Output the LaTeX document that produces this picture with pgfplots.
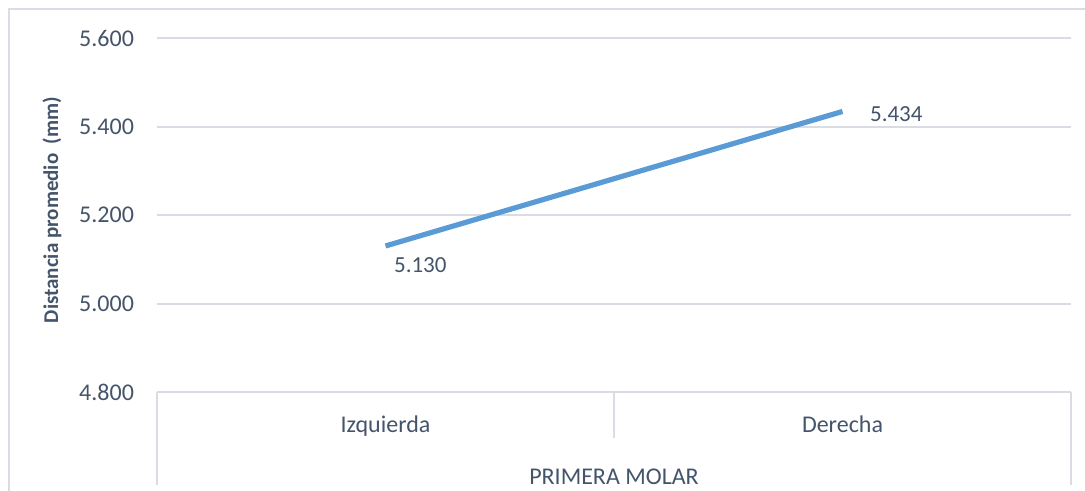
\documentclass[border=0pt]{standalone}
\usepackage{pgfplots}
\pgfplotsset{compat=1.18}
\usepackage{fontspec}
\setmainfont{Carlito}
\definecolor{txt}{HTML}{44546A}
\definecolor{grd}{HTML}{D9DDE3}
\definecolor{ln}{HTML}{5B9BD5}
\begin{document}
\begin{tikzpicture}[x=1pt,y=1pt]
\begin{axis}[at={(78.5pt,49.5pt)}, anchor=south west, scale only axis,
 width=457pt, height=177pt,
 xmin=-0.5, xmax=1.5, ymin=4.8, ymax=5.6,
 ytick={4.8,5.0,5.2,5.4,5.6}, xtick={0,1}, xticklabels={Izquierda,Derecha},
 axis line style={draw=none}, major tick length=0pt,
 ymajorgrids, grid style={grd, line width=1pt},
 /pgf/number format/assume math mode=true,
 ticklabel style={font=\fontsize{12}{14}\selectfont, text=txt},
 yticklabel style={/pgf/number format/fixed, /pgf/number format/fixed zerofill, /pgf/number format/precision=3},
 yticklabel style={anchor=east, xshift=-8pt},
 xticklabel style={anchor=base, yshift=-20.5pt},
 clip=false]
\addplot[ln, line width=2.6pt, line cap=butt] coordinates {(0,5.130) (1,5.434)}
 node[pos=0, anchor=base west, inner sep=0pt, xshift=3pt, yshift=-13.5pt, font=\fontsize{11.5}{14}\selectfont, text=txt]{5.130}
 node[pos=1, anchor=base west, inner sep=0pt, xshift=12.5pt, yshift=-5.25pt, font=\fontsize{11.5}{14}\selectfont, text=txt]{5.434};
\end{axis}
\draw[grd, line width=1pt] (78.5,49.5) -- (78.5,3);
\draw[grd, line width=1pt] (307,49.5) -- (307,26.5);
\draw[grd, line width=1pt] (535.5,49.5) -- (535.5,3);
\draw[grd, line width=1pt] (4.5,-5) -- (4.5,241) -- (545,241);
\node[anchor=base, inner sep=0pt, text=txt, font=\fontsize{12}{14}\selectfont] at (307,3) {PRIMERA MOLAR};
\node[rotate=90, inner sep=0pt, text=txt, font=\bfseries\fontsize{10.5}{12}\selectfont] at (26,140.5) {Distancia promedio\ \ (mm)};
\pgfresetboundingbox
\path[use as bounding box] (0,0) rectangle (542.5,245.5);
\end{tikzpicture}
\end{document}
